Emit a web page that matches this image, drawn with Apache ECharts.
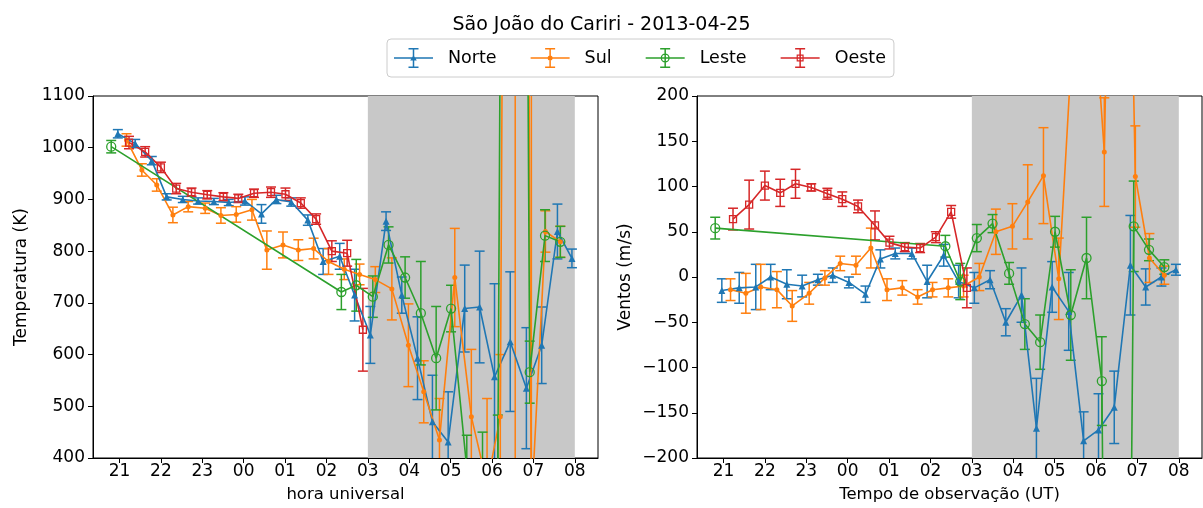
<!DOCTYPE html>
<html><head><meta charset="utf-8">
<script src="https://cdn.jsdelivr.net/npm/echarts@6/dist/echarts.min.js"></script>
<style>html,body{margin:0;padding:0;background:#fff}#c{width:1203px;height:508px}</style>
</head><body><div id="c"></div>
<script>
// ---------------- data (hours; 24+ = after midnight UT) ----------------
const hourTicks = [21, 22, 23, 24, 25, 26, 27, 28, 29, 30, 31, 32];
const nightStart = 27, nightEnd = 32;

const norteTime = [20.96, 21.38, 21.78, 22.14, 22.53, 22.9, 23.28, 23.64, 24.03, 24.43, 24.79, 25.15, 25.55, 25.92, 26.32, 26.68, 27.06, 27.44, 27.82, 28.2, 28.56, 28.94, 29.34, 29.7, 30.06, 30.44, 30.83, 31.2, 31.58, 31.93];
const norteTemp = [1027, 1008, 975, 905, 900, 897, 896, 894, 897, 872, 900, 895, 860, 780, 790, 715, 638, 858, 715, 593, 470, 431, 689, 692, 557, 625, 535, 618, 838, 786];
const norteTempErr = [8, 8, 8, 6, 6, 6, 6, 6, 8, 18, 8, 8, 10, 25, 25, 50, 55, 18, 35, 80, 90, 97, 84, 108, 180, 135, 117, 74, 53, 18];
const norteWind = [-15, -12, -11, 0, -8, -10, -3, 2, -6, -19, 20, 26, 26, -5, 24, -5, -12, -3, -50, -20, -167, -11, -38, -181, -169, -144, 13, -11, 0, 8];
const norteWindErr = [13, 17, 25, 14, 16, 12, 6, 8, 6, 9, 10, 6, 6, 18, 12, 18, 17, 10, 15, 30, 55, 28, 43, 32, 40, 40, 55, 20, 10, 6];

const sulTime = [21.17, 21.54, 21.9, 22.29, 22.66, 23.07, 23.45, 23.82, 24.2, 24.56, 24.95, 25.32, 25.69, 26.05, 26.43, 26.8, 27.18, 27.58, 27.98, 28.35, 28.73, 29.1, 29.5, 29.88, 30.2, 30.56, 30.95, 31.29, 31.65];
const sulTemp = [1015, 957, 928, 870, 886, 883, 869, 871, 880, 802, 812, 802, 805, 780, 765, 755, 745, 727, 618, 528, 435, 749, 480, 350, 480, 6000, 300, 838, 818];
const sulTempErr = [12, 12, 12, 15, 10, 10, 15, 15, 20, 37, 25, 20, 20, 25, 20, 20, 25, 60, 80, 60, 80, 95, 130, 165, 120, 5800, 1000, 40, 30];
const sulWind = [-14, -18, -11, -14, -32, -18, -1, 15, 13, 32, -14, -12, -22, -14, -12, -10, 0, 50, 56, 83, 112, -2, 320, 350, 138, 1000, 111, 21, 2];
const sulWindErr = [12, 22, 25, 20, 17, 12, 8, 8, 10, 22, 12, 8, 8, 8, 10, 12, 15, 25, 25, 41, 53, 45, 60, 60, 60, 300, 56, 27, 10];

const lesteTime = [20.8, 26.36, 26.72, 27.12, 27.5, 27.9, 28.28, 28.65, 29.01, 29.39, 29.77, 30.14, 30.52, 30.91, 31.28, 31.65];
const lesteTemp = [1002, 721, 734, 712, 812, 749, 680, 593, 689, 380, 350, 380, 6000, 566, 830, 818];
const lesteTempErr = [12, 34, 50, 40, 35, 40, 100, 100, 45, 64, 100, 103, 3000, 60, 50, 30];
const lesteWind = [54, 34, -5, 43, 59, 4, -52, -72, 50, -42, 21, -115, -2000, 56, 30, 11];
const lesteWindErr = [12, 12, 20, 15, 10, 12, 28, 30, 17, 50, 45, 49, 200, 50, 12, 8];

const oesteTime = [21.23, 21.62, 22.0, 22.37, 22.74, 23.12, 23.51, 23.87, 24.25, 24.66, 25.01, 25.38, 25.75, 26.13, 26.5, 26.88];
const oesteTemp = [1010, 992, 962, 921, 914, 909, 905, 902, 912, 914, 910, 893, 862, 800, 796, 648];
const oesteTempErr = [12, 10, 10, 10, 8, 8, 8, 8, 8, 10, 12, 10, 10, 20, 25, 80];
const oesteWind = [64, 80, 101, 93, 103, 99, 92, 86, 78, 57, 38, 33, 32, 44, 72, -12];
const oesteWindErr = [12, 27, 16, 15, 16, 4, 6, 8, 7, 16, 7, 5, 5, 6, 7, 22];

// ---------------- chart ----------------
const FONT = 'DejaVu Sans';
const directions = [
  {name: 'Norte', color: '#1f77b4', time: norteTime, temp: norteTemp, tempErr: norteTempErr, wind: norteWind, windErr: norteWindErr,
   symbol: 'triangle', size: 7, fill: '#1f77b4',
   mark: 'M19.5,7 L22.8,12.5 L16.2,12.5 Z'},
  {name: 'Sul', color: '#ff7f0e', time: sulTime, temp: sulTemp, tempErr: sulTempErr, wind: sulWind, windErr: sulWindErr,
   symbol: 'circle', size: 5, fill: '#ff7f0e',
   mark: 'M17,10 A2.5,2.5 0 1,1 22,10 A2.5,2.5 0 1,1 17,10 Z'},
  {name: 'Leste', color: '#2ca02c', time: lesteTime, temp: lesteTemp, tempErr: lesteTempErr, wind: lesteWind, windErr: lesteWindErr,
   symbol: 'circle', size: 9, fill: 'none',
   mark: 'M15,10 A4.5,4.5 0 1,1 24,10 A4.5,4.5 0 1,1 15,10 Z M16.3,10 A3.2,3.2 0 1,0 22.7,10 A3.2,3.2 0 1,0 16.3,10 Z'},
  {name: 'Oeste', color: '#d62728', time: oesteTime, temp: oesteTemp, tempErr: oesteTempErr, wind: oesteWind, windErr: oesteWindErr,
   symbol: 'rect', size: 7, fill: 'none',
   mark: 'M16,6.5 L23,6.5 L23,13.5 L16,13.5 Z M17.2,7.7 L17.2,12.3 L21.8,12.3 L21.8,7.7 Z'}
];

const barPath = 'M0,9.25 L39,9.25 L39,10.75 L0,10.75 Z M18.75,0 L20.25,0 L20.25,20 L18.75,20 Z M14.5,0 L24.5,0 L24.5,1.5 L14.5,1.5 Z M14.5,18.5 L24.5,18.5 L24.5,20 L14.5,20 Z ';

function zip3(t, v, e) { return t.map((x, i) => [x, v[i], e[i]]); }

function errRender(params, api) {
  const x = api.value(0), y = api.value(1), e = api.value(2);
  const cs = params.coordSys;
  const top = api.coord([x, y + e]);
  const bot = api.coord([x, y - e]);
  const px = top[0];
  if (px < cs.x - 1 || px > cs.x + cs.width + 1) return;
  const y0 = cs.y, y1 = cs.y + cs.height;
  const a = Math.max(top[1], y0), b = Math.min(bot[1], y1);
  if (a > b) return;
  const style = {stroke: api.visual('color'), lineWidth: 1.5, fill: null};
  const hw = 5;
  const children = [{type: 'line', shape: {x1: px, y1: a, x2: px, y2: b}, style: style}];
  if (top[1] >= y0 && top[1] <= y1) children.push({type: 'line', shape: {x1: px - hw, y1: top[1], x2: px + hw, y2: top[1]}, style: style});
  if (bot[1] >= y0 && bot[1] <= y1) children.push({type: 'line', shape: {x1: px - hw, y1: bot[1], x2: px + hw, y2: bot[1]}, style: style});
  return {type: 'group', children: children};
}

const series = [];
directions.forEach(d => {
  [[d.temp, d.tempErr], [d.wind, d.windErr]].forEach((pair, g) => {
    series.push({
      type: 'custom', name: d.name, xAxisIndex: g, yAxisIndex: g,
      renderItem: errRender, itemStyle: {color: d.color},
      encode: {x: 0, y: 1}, data: zip3(d.time, pair[0], pair[1]),
      z: 3, silent: true, animation: false
    });
  });
});
directions.forEach(d => {
  [d.temp, d.wind].forEach((vals, g) => {
    series.push({
      type: 'line', name: d.name, xAxisIndex: g, yAxisIndex: g,
      data: d.time.map((t, i) => [t, vals[i]]),
      symbol: d.symbol, symbolSize: d.size, showSymbol: true,
      lineStyle: {color: d.color, width: 1.6},
      itemStyle: {color: d.fill, borderColor: d.color, borderWidth: d.fill === 'none' ? 1.3 : 0},
      clip: true, z: 3, silent: true, animation: false
    });
  });
});
[0, 1].forEach(g => {
  series.push({
    type: 'line', name: 'shade' + g, xAxisIndex: g, yAxisIndex: g, data: [],
    z: 1, silent: true, animation: false,
    markArea: {silent: true, itemStyle: {color: '#c8c8c8', opacity: 1}, data: [[{xAxis: nightStart}, {xAxis: nightEnd}]]}
  });
});

function hourFmt(v) { const h = Math.round(v) % 24; return (h < 10 ? '0' : '') + h; }
function minusFmt(v) { return v < 0 ? '\u2212' + (-v) : String(v); }

function xAxisCfg(g, name) {
  return {
    type: 'value', gridIndex: g, min: 20.36, max: 32.56,
    name: name, nameLocation: 'middle', nameGap: 28,
    nameTextStyle: {fontFamily: FONT, fontSize: 16.5, color: '#000'},
    axisLine: {show: true, onZero: false, lineStyle: {color: '#000', width: 1}},
    axisTick: {show: true, customValues: hourTicks, length: 5, lineStyle: {color: '#000'}},
    axisLabel: {customValues: hourTicks, formatter: hourFmt, fontFamily: FONT, fontSize: 17, color: '#000', margin: 5},
    splitLine: {show: false}
  };
}
function yAxisCfg(g, name, min, max, interval, fmt) {
  return {
    type: 'value', gridIndex: g, min: min, max: max, interval: interval,
    name: name, nameLocation: 'middle', nameGap: 63,
    nameTextStyle: {fontFamily: FONT, fontSize: 17, color: '#000'},
    axisLine: {show: true, onZero: false, lineStyle: {color: '#000', width: 1}},
    axisTick: {show: true, length: 5, lineStyle: {color: '#000'}},
    axisLabel: {formatter: fmt, fontFamily: FONT, fontSize: 17, color: '#000', margin: 8},
    splitLine: {show: false}
  };
}

const option = {
  backgroundColor: '#fff',
  animation: false,
  title: {
    text: 'São João do Cariri - 2013-04-25', left: 'center', top: 11,
    textStyle: {fontFamily: FONT, fontSize: 19, fontWeight: 'normal', color: '#000'}
  },
  legend: {
    left: 387, top: 39, orient: 'horizontal',
    itemWidth: 39, itemHeight: 20, itemGap: 34,
    padding: [9, 8, 9, 7],
    borderColor: '#cccccc', borderWidth: 1, borderRadius: 4, backgroundColor: '#fff',
    selectedMode: false,
    textStyle: {fontFamily: FONT, fontSize: 17.5, color: '#000', padding: [0, 0, 0, 10]},
    data: directions.map(d => ({name: d.name, icon: 'path://' + barPath + d.mark,
      itemStyle: {color: d.color, borderWidth: 0}}))
  },
  grid: [
    {left: 93, top: 96, width: 505, height: 362, show: true, borderColor: '#000', borderWidth: 1, backgroundColor: 'transparent', containLabel: false},
    {left: 697, top: 96, width: 505, height: 362, show: true, borderColor: '#000', borderWidth: 1, backgroundColor: 'transparent', containLabel: false}
  ],
  xAxis: [xAxisCfg(0, 'hora universal'), xAxisCfg(1, 'Tempo de observação (UT)')],
  yAxis: [yAxisCfg(0, 'Temperatura (K)', 400, 1100, 100, v => String(v)),
          yAxisCfg(1, 'Ventos (m/s)', -200, 200, 50, minusFmt)],
  series: series
};

const chart = echarts.init(document.getElementById('c'), null, {renderer: 'canvas'});
chart.setOption(option);
</script>
</body></html>
